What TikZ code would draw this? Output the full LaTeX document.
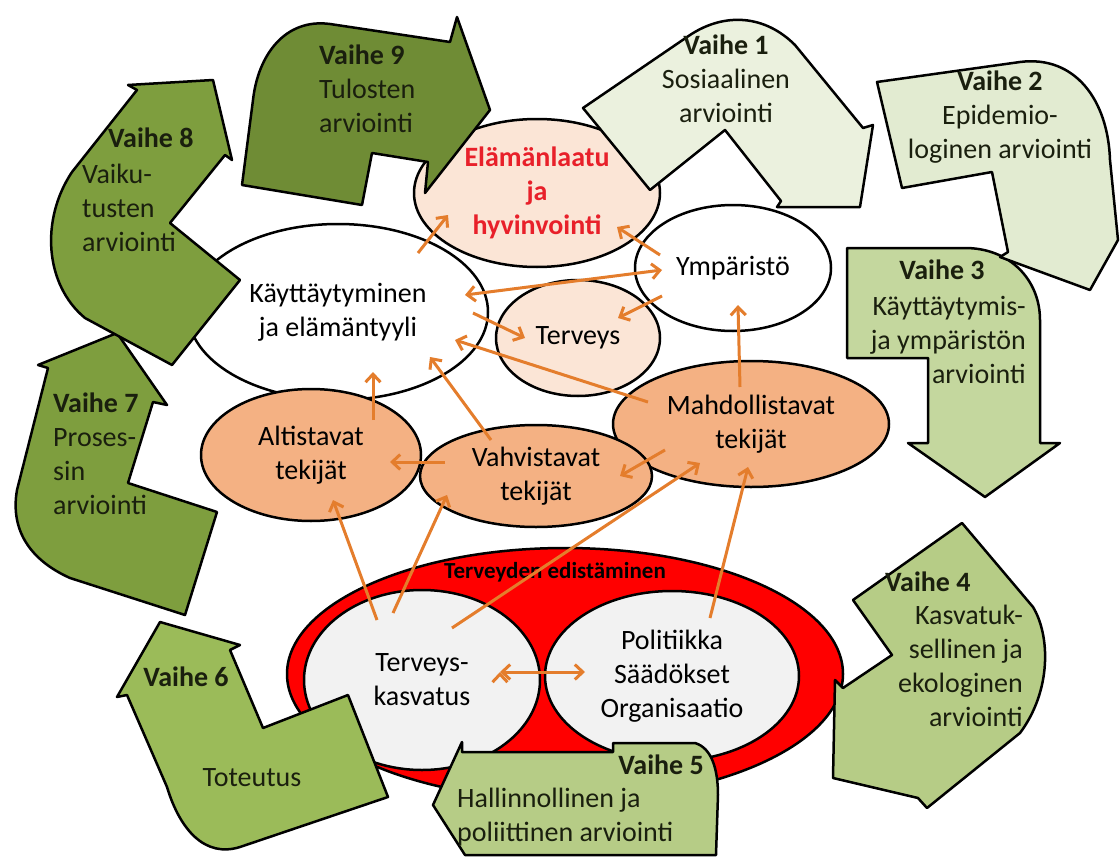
\documentclass[tikz,border=0pt]{standalone}
\usepackage{fontspec}
\setmainfont{Carlito}
\usetikzlibrary{shapes.geometric,arrows.meta,calc}

\definecolor{peachlight}{HTML}{FBE5D6}
\definecolor{peach}{HTML}{F4B183}
\definecolor{linkorange}{HTML}{E47D2C}
\definecolor{qolred}{HTML}{E8202A}
\definecolor{innergray}{HTML}{F2F2F2}
\definecolor{phaseA}{HTML}{EBF1DE}
\definecolor{phaseB}{HTML}{E2EBD1}
\definecolor{phaseC}{HTML}{C4D79E}
\definecolor{phaseD}{HTML}{B6CC86}
\definecolor{phaseE}{HTML}{9BBB59}
\definecolor{phaseF}{HTML}{7E9E3E}
\definecolor{phaseG}{HTML}{6F8C35}
\definecolor{inktext}{HTML}{1A1F0E}

\begin{document}
\begin{tikzpicture}[x=1pt,y=-1pt,>={Straight Barb[length=8pt,width=15pt]},
  bubble/.style={ellipse,draw=black,line width=2.5pt,inner sep=0pt,align=center,font=\fontsize{28}{34}\selectfont},
  phase/.style={draw=black,line width=2.5pt,line join=round},
  phasetxt/.style={inner sep=0pt,text=inktext,font=\fontsize{28}{34}\selectfont},
  phasehead/.style={inner sep=0pt,text=inktext,font=\bfseries\fontsize{28}{34}\selectfont},
  link/.style={draw=linkorange,line width=3pt,->}]
\useasboundingbox (0,0) rectangle (1120,859);

\node[bubble,fill=white,minimum width=300pt,minimum height=176pt] (beh) at (338,312) {Käyttäytyminen\\ja elämäntyyli};
\node[bubble,fill=white,minimum width=196pt,minimum height=126pt] (env) at (733,268) {Ympäristö};
\node[bubble,fill=peachlight,minimum width=246pt,minimum height=148pt,text=qolred,font=\bfseries\fontsize{28}{34}\selectfont] (qol) at (537,193) {Elämänlaatu\\ja\\hyvinvointi};
\node[bubble,fill=peachlight,minimum width=164pt,minimum height=116pt] (hlt) at (578,338) {Terveys};
\node[bubble,fill=peach,minimum width=276pt,minimum height=126pt] (enab) at (751,424) {Mahdollistavat\\tekijät};
\node[bubble,fill=peach,minimum width=232pt,minimum height=102pt] (reinf) at (536,476) {Vahvistavat\\tekijät};
\node[bubble,fill=peach,minimum width=220pt,minimum height=132pt] (predis) at (311,455) {Altistavat\\tekijät};

\node[ellipse,draw=black,line width=2.5pt,fill=red,minimum width=556pt,minimum height=252pt] (promo) at (565,674) {};
\node[font=\bfseries\fontsize{23}{27}\selectfont,inner sep=0pt] (promotitle) at (555,572) {Terveyden edistäminen};
\node[bubble,fill=innergray,minimum width=236pt,minimum height=180pt] (edu) at (422,680) {Terveys-\\kasvatus};
\node[bubble,fill=innergray,minimum width=254pt,minimum height=170pt] (pol) at (672,676) {Politiikka\\Säädökset\\Organisaatio};

\path[link]
  ($(beh)+(80,-59)$) edge ($(qol)+(-89,22)$)
  ($(env)+(-73,-13)$) edge ($(qol)+(80,34)$)
  ($(beh)+(127,-17)$) edge[<->] ($(env)+(-71,2)$)
  ($(env)+(-71,28)$) edge ($(hlt)+(40,-20)$)
  ($(beh)+(135,1)$) edge ($(hlt)+(-53,0)$)
  ($(enab)+(-103,-22)$) edge ($(beh)+(117,28)$)
  ($(enab)+(-11,-37)$) edge ($(env)+(5,37)$)
  ($(enab)+(-86,26)$) edge ($(reinf)+(84,0)$)
  ($(reinf)+(-91,-14)$) edge ($(predis)+(79,7)$)
  ($(predis)+(62,-35)$) edge ($(beh)+(35,60)$)
  ($(reinf)+(-45,-36)$) edge ($(beh)+(92,45)$)
  ($(edu)+(-45,-60)$) edge ($(predis)+(22,45)$)
  ($(edu)+(-29,-67)$) edge ($(reinf)+(-89,19)$)
  ($(edu)+(30,-52)$) edge ($(enab)+(-51,39)$)
  ($(pol)+(38,-58)$) edge ($(enab)+(-3,43)$)
  ($(edu)+(78,-8)$) edge[<->] ($(pol)+(-87,-4)$);

\draw[phase,fill=phaseC] (847,248) -- (965,248) .. controls (1010,248) and (1040,280) .. (1040,320) -- (1040,443) -- (1060,443) -- (985,497) -- (908,443) -- (928,443) -- (928,358) -- (847,358) -- cycle;
\node[phasehead] (v3head) at (942,270) {Vaihe 3};
\node[phasetxt,align=right,anchor=east] (v3) at (1026,340) {Käyttäytymis-\\ja ympäristön\\arviointi};

\draw[phase,fill=phaseB] (877,82) -- (1020,62) .. controls (1075,55) and (1108,100) .. (1110,160) -- (1118,240) -- (1090,290) -- (1000,257) -- (1008,252) -- (992,172) -- (902,188) -- cycle;
\node[phasetxt,align=center] (v2) at (1000,117) {\textbf{Vaihe 2}\\Epidemio-\\loginen arviointi};

\draw[phase,fill=phaseA] (583,108) -- (690,35) .. controls (725,12) and (765,15) .. (795,45) -- (863,128) -- (873,125) -- (860,207) -- (777,207) -- (781,201) -- (725,130) -- (650,190) -- cycle;
\node[phasetxt,align=center] (v1) at (726,79) {\textbf{Vaihe 1}\\Sosiaalinen\\arviointi};

\draw[phase,fill=phaseD] (962,523) -- (1033,607) .. controls (1050,635) and (1052,690) .. (1020,733) -- (927,808) -- (918,798) -- (833,778) -- (835,680) -- (843,688) -- (892,655) -- (853,600) -- cycle;
\node[phasehead,anchor=west] (v4head) at (885,582) {Vaihe 4};
\node[phasetxt,align=right,anchor=east] (v4) at (1023,666) {Kasvatuk-\\sellinen ja\\ekologinen\\arviointi};

\draw[phase,fill=phaseD] (433,805) -- (462,742) -- (462,752) -- (613,752) -- (613,743) -- (695,743) .. controls (712,748) and (718,770) .. (718,795) -- (716,855) -- (465,855) -- cycle;
\node[phasehead,anchor=east] (v5head) at (704,765) {Vaihe 5};
\node[phasetxt,align=left,anchor=west] (v5) at (457,817) {Hallinnollinen ja\\poliittinen arviointi};

\draw[phase,fill=phaseE] (160,622) -- (240,645) -- (230,650) -- (263,728) -- (348,695) -- (388,797) -- (240,847) .. controls (205,858) and (180,830) .. (167,787) -- (127,695) -- (117,697) -- cycle;
\node[phasehead] (v6head) at (186,677) {Vaihe 6};
\node[phasetxt] (v6) at (252,778) {Toteutus};

\draw[phase,fill=phaseF] (117,333) -- (167,405) -- (153,402) -- (128,483) -- (217,512) -- (185,615) -- (70,578) .. controls (30,560) and (10,530) .. (17,490) -- (48,368) -- (38,365) -- cycle;
\node[phasetxt,align=left,anchor=west] (v7) at (53,454) {\textbf{Vaihe 7}\\Proses-\\sin\\arviointi};

\draw[phase,fill=phaseF] (213,80) -- (232,160) -- (225,155) -- (170,223) -- (240,280) -- (172,365) -- (85,318) .. controls (45,285) and (40,220) .. (72,172) -- (137,90) -- (128,85) -- cycle;
\node[phasehead,anchor=west] (v8head) at (108,138) {Vaihe 8};
\node[phasetxt,align=left,anchor=west] (v8) at (82,208) {Vaiku-\\tusten\\arviointi};

\draw[phase,fill=phaseG] (242,185) -- (362,205) -- (372,153) -- (428,162) -- (425,193) -- (490,110) -- (457,17) -- (450,42) -- (330,24) .. controls (285,18) and (258,55) .. (253,100) -- cycle;
\node[phasetxt,align=left,anchor=west] (v9) at (319,89) {\textbf{Vaihe 9}\\Tulosten\\arviointi};
\end{tikzpicture}
\end{document}
